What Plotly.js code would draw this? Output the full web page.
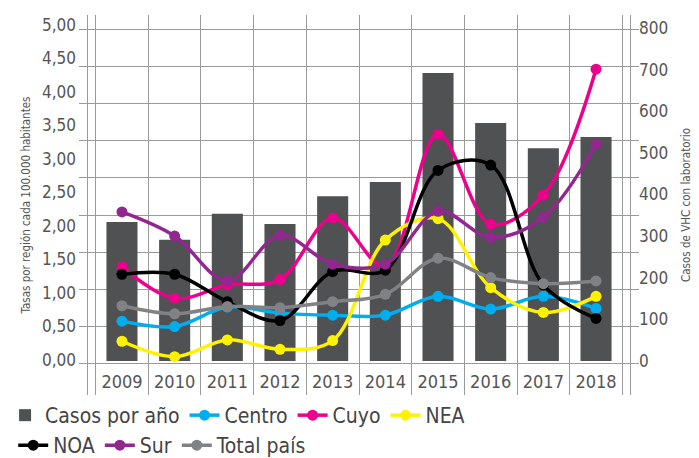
<!DOCTYPE html>
<html>
<head>
<meta charset="utf-8">
<script src="https://cdn.plot.ly/plotly-3.0.1.min.js"></script>
<style>
  html, body { margin: 0; padding: 0; background: #fff; }
  #chart { width: 699px; height: 458px; }
</style>
</head>
<body>
<div id="chart"></div>
<script>
const years = ['2009', '2010', '2011', '2012', '2013', '2014', '2015', '2016', '2017', '2018'];

// casos por año (eje derecho)
const casos = [334, 291, 354, 329, 396, 430, 692, 572, 511, 538];

// tasas por región cada 100.000 habitantes (eje izquierdo)
const centro = [0.58, 0.50, 0.79, 0.70, 0.67, 0.67, 0.95, 0.76, 0.95, 0.77];
const cuyo   = [1.39, 0.92, 1.12, 1.20, 2.12, 1.39, 3.37, 2.03, 2.46, 4.34];
const nea    = [0.28, 0.05, 0.30, 0.16, 0.29, 1.79, 2.11, 1.08, 0.71, 0.95];
const noa    = [1.28, 1.28, 0.87, 0.59, 1.32, 1.34, 2.83, 2.91, 1.12, 0.62];
const sur    = [2.21, 1.85, 1.18, 1.86, 1.43, 1.43, 2.22, 1.83, 2.13, 3.22];
const total  = [0.81, 0.69, 0.80, 0.78, 0.87, 0.98, 1.52, 1.23, 1.14, 1.18];

const tasaTicks = [0, 0.5, 1, 1.5, 2, 2.5, 3, 3.5, 4, 4.5, 5];
const casosTicks = [0, 100, 200, 300, 400, 500, 600, 700, 800];
const gridTicks = [0, 1, 2, 3, 4, 5, 6, 7, 8, 9];

const FONT = 'DejaVu Sans Condensed, Liberation Sans Narrow, sans-serif';
const GRID = '#9a9a9a';

function serie(name, y, color, legend) {
  return {
    x: years, y: y, name: name, type: 'scatter', mode: 'lines+markers',
    yaxis: 'y3', legend: legend,
    line: { color: color, width: 3.5, shape: 'spline', smoothing: 1 },
    marker: { color: color, size: 11 },
    cliponaxis: false
  };
}

const traces = [
  // traza sin puntos: solo sostiene el eje principal con la cuadrícula
  {
    x: years, y: years.map(() => null), type: 'scatter', mode: 'markers',
    showlegend: false, hoverinfo: 'skip'
  },
  {
    x: years, y: casos, name: 'Casos por año', type: 'bar', yaxis: 'y2',
    marker: { color: '#505153' }, legend: 'legend'
  },
  serie('Centro', centro, '#00aeef', 'legend'),
  serie('Cuyo', cuyo, '#ec008c', 'legend'),
  serie('NEA', nea, '#fff200', 'legend'),
  serie('NOA', noa, '#000000', 'legend2'),
  serie('Sur', sur, '#92278f', 'legend2'),
  serie('Total país', total, '#808285', 'legend2')
];

const legendFont = { family: FONT, size: 21, color: '#444' };

const layout = {
  width: 699, height: 458,
  margin: { l: 88, r: 69, t: 15, b: 63, autoexpand: false },
  paper_bgcolor: '#fff', plot_bgcolor: '#fff',
  font: { family: FONT, color: '#555' },
  separators: ',.',
  bargap: 0.41,
  showlegend: true,
  xaxis: {
    type: 'category', tickson: 'boundaries',
    showgrid: true, gridcolor: GRID, gridwidth: 1,
    ticks: '', showline: false, zeroline: false,
    ticklabelposition: 'inside', ticklabelstandoff: 0,
    tickfont: { family: FONT, size: 18, color: '#555' }
  },
  // eje principal: líneas de cuadrícula del original (no coinciden con las etiquetas)
  yaxis: {
    side: 'left', range: [-0.833, 9.376], tickvals: gridTicks,
    showgrid: true, gridcolor: GRID, gridwidth: 1, zeroline: false,
    showline: true, linecolor: GRID, mirror: 'ticks',
    showticklabels: false, ticks: 'outside', ticklen: 8, tickcolor: GRID
  },
  yaxis2: {
    overlaying: 'y', side: 'right', range: [-81.7, 831.2], tickvals: casosTicks,
    showgrid: false, zeroline: false, showline: false,
    ticks: '', ticklabelstandoff: 8,
    tickfont: { family: FONT, size: 17, color: '#555' },
    title: { text: 'Casos de VHC con laboratorio', font: { family: FONT, size: 11.5, color: '#555' }, standoff: 14 }
  },
  yaxis3: {
    overlaying: 'y', side: 'left', range: [-0.522, 5.149], tickvals: tasaTicks, tickformat: '.2f',
    showgrid: false, zeroline: false, showline: false,
    ticks: '', ticklabelstandoff: 11,
    tickfont: { family: FONT, size: 17, color: '#555' },
    title: { text: 'Tasas por región cada 100.000 habitantes', font: { family: FONT, size: 11.5, color: '#555' }, standoff: 8 }
  },
  legend: {
    orientation: 'h', x: -0.153, xanchor: 'left', y: 0, yanchor: 'top',
    font: legendFont, itemwidth: 30, tracegroupgap: 0, bgcolor: 'rgba(0,0,0,0)'
  },
  legend2: {
    orientation: 'h', x: -0.138, xanchor: 'left', y: -0.079, yanchor: 'top',
    font: legendFont, itemwidth: 30, tracegroupgap: 0, bgcolor: 'rgba(0,0,0,0)'
  }
};

Plotly.newPlot('chart', traces, layout, { displayModeBar: false, responsive: false });
</script>
</body>
</html>
